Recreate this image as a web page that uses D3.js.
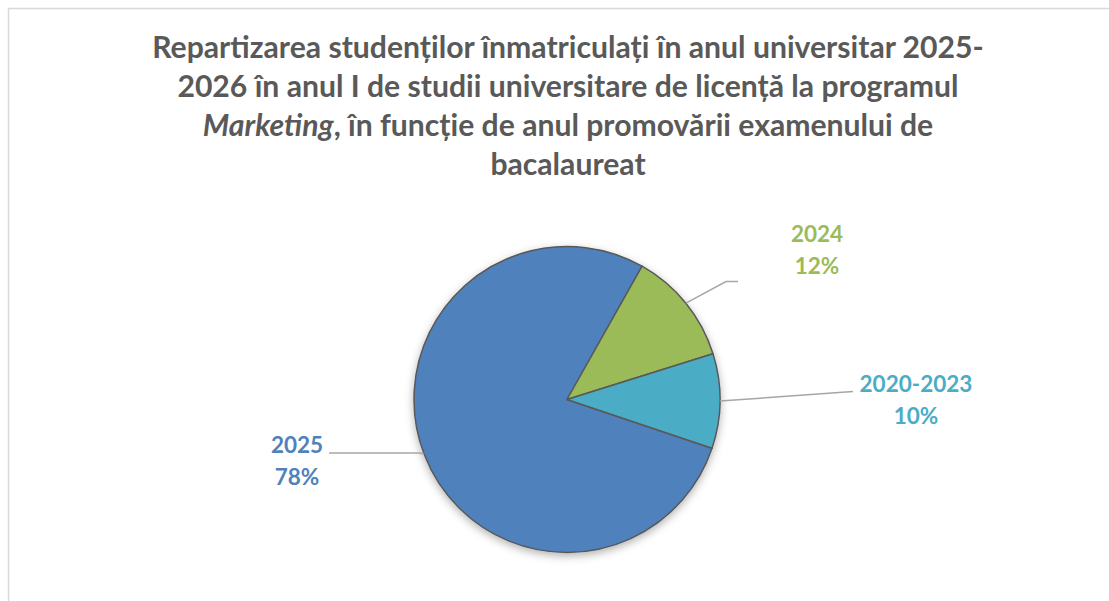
<!DOCTYPE html>
<html>
<head>
<meta charset="utf-8">
<script src="https://cdn.jsdelivr.net/npm/d3@7"></script>
<style>
    body { margin: 0; background: #FFF; }
    svg { display: block; }
</style>
</head>
<body>
<div class="chart"></div>
<script>
//Chart data
var categories = ["2025", "2024", "2020-2023"];
var percentages = [78, 12, 10];
var sliceColors = ["#4F81BD", "#9BBB59", "#4BACC6"];

//Title lines - each line is a list of [text, italic] parts
var titleLines = [
    [["Repartizarea studenților înmatriculați în anul universitar 2025-", false]],
    [["2026 în anul I de studii universitare de licență la programul", false]],
    [["Marketing", true], [", în funcție de anul promovării examenului de", false]],
    [["bacalaureat", false]]
];

//Layout configuration
var configuration = {
    width: 1109,
    height: 601,
    cx: 567,
    cy: 399.5,
    radius: 153,
    startAngle: 108.6, //degrees, clockwise from top
    titleX: 568,
    titleY: 58,
    titleLineHeight: 39,
    titleWidth: 832,
    labelWidth: 113, //width of "2020-2023"
    labelLineHeight: 32
};

//Label placement relative to pie center: leader elbow, leader end and text anchor
var labelLayout = {
    "2025": { elbow: [-147, 53.5], end: [-238, 53.5], text: [-270, 53.5] },
    "2024": { elbow: [159, -118], end: [171, -118], text: [250, -157.5] },
    "2020-2023": { elbow: [286, -8], end: [286, -8], text: [349, -7.5] }
};

var svg = d3.select(".chart")
    .append("svg")
        .attr("width", configuration.width)
        .attr("height", configuration.height);

//Drop shadow for the pie
var filter = svg.append("defs").append("filter")
    .attr("id", "shadow")
    .attr("x", "-20%").attr("y", "-20%")
    .attr("width", "140%").attr("height", "140%");
filter.append("feDropShadow")
    .attr("dx", 0)
    .attr("dy", 3)
    .attr("stdDeviation", 4)
    .attr("flood-color", "#000")
    .attr("flood-opacity", 0.3);

//Chart area border
svg.append("rect")
    .attr("x", 8.5)
    .attr("y", 8.5)
    .attr("width", configuration.width)
    .attr("height", configuration.height)
    .attr("fill", "none")
    .attr("stroke", "#D9D9D9")
    .attr("stroke-width", 1.5);

//Title
var fontFamily = "Lato, 'Noto Sans', sans-serif";
var title = svg.append("text")
    .attr("text-anchor", "middle")
    .attr("font-family", fontFamily)
    .attr("font-weight", "bold")
    .attr("font-size", 30)
    .attr("fill", "#595959");

titleLines.forEach(function(parts, i) {
    var line = title.append("tspan")
        .attr("x", configuration.titleX)
        .attr("y", configuration.titleY + i * configuration.titleLineHeight);
    parts.forEach(function(part, j) {
        var span = j === 0 ? line : title.append("tspan");
        span.text(part[0]).attr("font-style", part[1] ? "italic" : "normal");
    });
});

//Fit the title font to the width of the first line
var firstLine = title.select("tspan").node();
var measured = firstLine.getComputedTextLength();
title.attr("font-size", 30 * configuration.titleWidth / measured);

//Pie
var data = categories.map(function(c, i) {
    return { category: c, value: percentages[i], color: sliceColors[i] };
});

var start = configuration.startAngle * Math.PI / 180;
var pie = d3.pie()
    .value(function(d) { return d.value; })
    .sort(null)
    .startAngle(start)
    .endAngle(start + 2 * Math.PI);

var arc = d3.arc()
    .innerRadius(0)
    .outerRadius(configuration.radius);

var arcs = pie(data);

var pieGroup = svg.append("g")
    .attr("transform", `translate(${configuration.cx}, ${configuration.cy})`);

pieGroup.append("g")
    .attr("filter", "url(#shadow)")
    .selectAll("path")
    .data(arcs)
    .join("path")
        .attr("d", arc)
        .attr("fill", function(d) { return d.data.color; })
        .attr("stroke", "#595959")
        .attr("stroke-width", 1.5)
        .attr("stroke-linejoin", "round");

//Leader lines - from the outer edge at the middle angle of each slice
pieGroup.selectAll("polyline")
    .data(arcs)
    .join("polyline")
        .attr("points", function(d) {
            var a = (d.startAngle + d.endAngle) / 2;
            var r = configuration.radius;
            var p0 = [r * Math.sin(a), -r * Math.cos(a)];
            var layout = labelLayout[d.data.category];
            return [p0, layout.elbow, layout.end].join(" ");
        })
        .attr("fill", "none")
        .attr("stroke", "#A6A6A6")
        .attr("stroke-width", 1.5);

//Data labels
var labels = pieGroup.selectAll("text.label")
    .data(arcs)
    .join("text")
        .attr("class", "label")
        .attr("text-anchor", "middle")
        .attr("font-family", fontFamily)
        .attr("font-weight", "bold")
        .attr("font-size", 24)
        .attr("fill", function(d) { return d.data.color; });

labels.append("tspan")
    .attr("x", function(d) { return labelLayout[d.data.category].text[0]; })
    .attr("y", function(d) { return labelLayout[d.data.category].text[1]; })
    .text(function(d) { return d.data.category; });

labels.append("tspan")
    .attr("x", function(d) { return labelLayout[d.data.category].text[0]; })
    .attr("dy", configuration.labelLineHeight)
    .text(function(d) { return d.data.value + "%"; });

//Fit label font to the width of the longest category
var longest = labels.filter(function(d) { return d.data.category === "2020-2023"; })
    .select("tspan").node();
var labelSize = 24 * configuration.labelWidth / longest.getComputedTextLength();
labels.attr("font-size", labelSize);
</script>
</body>
</html>
